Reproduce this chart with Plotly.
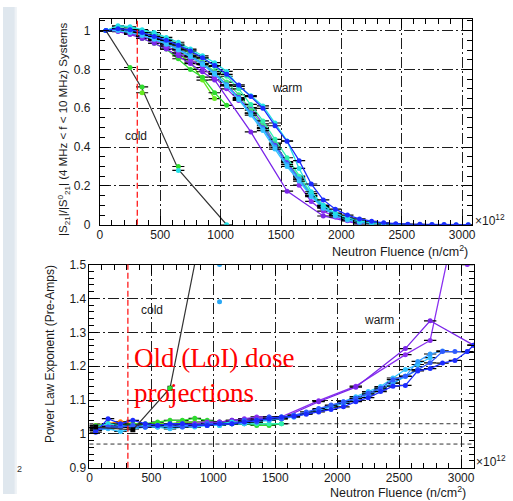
import plotly.graph_objects as go

W, H = 513, 501

# ---- fluence sample points (x 10^12 n/cm^2) ----
FLUENCE = [50, 150, 250, 350, 450, 550, 650, 750, 850, 950, 1050, 1150, 1250, 1350,
           1450, 1550, 1650, 1750, 1850, 1950, 2050, 2150, 2250, 2350, 2450, 2550,
           2650, 2750, 2850, 2950, 3050]
FLUENCE_ERR = 50
LOI_FLUENCE = 310

# ---- |S21|/|S21^0| warm systems ----
S21_BLUE = [1.00, 1.01, 1.005, 0.99, 0.97, 0.95, 0.925, 0.895, 0.86, 0.82, 0.775, 0.72, 0.66, 0.60,
            0.51, 0.43, 0.33, 0.21, 0.128, 0.08, 0.05, 0.03, 0.018, 0.01, 0.005, 0.003, 0.002,
            0.001, 0.001, 0.0, 0.0]
S21_CYAN = [1.00, 1.025, 1.02, 1.005, 0.99, 0.965, 0.94, 0.905, 0.87, 0.835, 0.79, 0.713, 0.665,
            0.612, 0.524, 0.432, 0.29, 0.17, 0.10, 0.06, 0.035, 0.02, 0.01, 0.005]
S21_AZURE = [1.00, 1.005, 0.995, 0.98, 0.96, 0.935, 0.905, 0.87, 0.83, 0.78, 0.72, 0.65, 0.575,
             0.495, 0.40, 0.31, 0.235, 0.15, 0.09, 0.05, 0.03, 0.016, 0.008, 0.004, 0.002, 0.001,
             0.0, 0.0]
S21_SKY = [1.00, 1.00, 0.99, 0.975, 0.955, 0.93, 0.90, 0.865, 0.825, 0.775, 0.715, 0.645, 0.565,
           0.485, 0.39, 0.30, 0.225, 0.145, 0.085, 0.045, 0.025, 0.012, 0.006, 0.003, 0.001, 0.0,
           0.0, 0.0, 0.0, 0.0, 0.0]
S21_AQUA = [1.00, 1.02, 1.015, 1.0, 0.98, 0.955, 0.93, 0.90, 0.86, 0.815, 0.765, 0.70, 0.62,
            0.535, 0.44, 0.345, 0.25, 0.16, 0.10, 0.055, 0.032, 0.017, 0.008]
S21_SPRING = [1.00, 1.01, 1.005, 0.99, 0.97, 0.945, 0.915, 0.88, 0.84, 0.79, 0.735, 0.67, 0.59,
              0.51, 0.415, 0.325, 0.245, 0.16, 0.095, 0.05, 0.028, 0.014, 0.006]
S21_INDIGO = [1.00, 1.005, 0.995, 0.98, 0.96, 0.935, 0.905, 0.87, 0.83, 0.78, 0.72, 0.655, 0.575,
              0.50, 0.41, 0.32, 0.235, 0.15, 0.09, 0.048, 0.028, 0.014, 0.007, 0.003]
S21_VIOLET = [1.00, 1.00, 0.985, 0.97, 0.95, 0.92, 0.885, 0.85, 0.81, 0.76, 0.70, 0.64, 0.604,
              0.52, 0.42, 0.32, 0.204, 0.12, 0.07, 0.04, 0.02, 0.01, 0.005]
S21_GREEN = [1.00, 1.00, 0.985, 0.96, 0.935, 0.905, 0.855, 0.80, 0.76, 0.68, 0.615]
S21_LIME = [1.00, 1.005, 0.99, 0.975, 0.955, 0.925, 0.88, 0.838, 0.745, 0.65]
S21_ORANGE = [1.00, 1.01, 1.005, 0.99]
S21_PURPLE_X = [50, 150, 250, 350, 450, 550, 650, 750, 850, 950, 1250, 1550, 1850, 2150]
S21_PURPLE = [1.00, 0.995, 0.98, 0.96, 0.935, 0.905, 0.87, 0.83, 0.788, 0.746, 0.478, 0.173,
              0.045, 0.003]

# ---- |S21| cold system ----
S21_COLD_X = [50, 250, 350, 650, 1050]
S21_COLD = [1.00, 0.805, 0.70, 0.285, 0.0]
S21_COLD_GREEN_X = [250, 350, 650]
S21_COLD_GREEN = [0.81, 0.71, 0.30]
S21_COLD_LIME_X = [350]
S21_COLD_LIME = [0.68]
S21_COLD_CYAN_X = [650, 1050]
S21_COLD_CYAN = [0.28, 0.0]

# ---- power law exponent, warm pre-amps ----
PLE_BLUE_X = FLUENCE + [3100]
PLE_BLUE = [1.005, 1.045, 1.03, 1.04, 1.03, 1.025, 1.03, 1.03, 1.025, 1.025, 1.03, 1.03, 1.035,
            1.04, 1.045, 1.05, 1.052, 1.058, 1.065, 1.072, 1.08, 1.095, 1.107, 1.125, 1.141, 1.143,
            1.186, 1.193, 1.209, 1.217, 1.243, 1.262]
PLE_ROYAL = [1.01, 1.02, 1.02, 1.025, 1.02, 1.025, 1.025, 1.02, 1.025, 1.03, 1.03, 1.03, 1.04,
             1.035, 1.05, 1.045, 1.055, 1.065, 1.075, 1.085, 1.095, 1.105, 1.12, 1.135, 1.16,
             1.17, 1.19, 1.21, 1.243, 1.243, 1.243]
PLE_AZURE = [1.015, 1.02, 1.025, 1.02, 1.02, 1.025, 1.02, 1.025, 1.025, 1.025, 1.03, 1.03, 1.035,
             1.04, 1.04, 1.045, 1.05, 1.06, 1.07, 1.08, 1.09, 1.10, 1.115, 1.13, 1.15, 1.17, 1.214,
             1.236, 1.245]
PLE_SKY = [1.01, 1.015, 1.007, 1.015, 1.02, 1.02, 1.015, 1.02, 1.02, 1.025, 1.025, 1.03, 1.03,
           1.035, 1.04, 1.045, 1.05, 1.06, 1.072, 1.083, 1.095, 1.11, 1.125, 1.14, 1.165, 1.19,
           1.205, 1.225]
PLE_CYAN = [1.02, 1.03, 1.025, 1.02, 1.025, 1.02, 1.02, 1.025, 1.025, 1.03, 1.03, 1.035, 1.035,
            1.04, 1.045, 1.05, 1.055, 1.06, 1.07, 1.08, 1.09, 1.105, 1.12, 1.135, 1.15, 1.17, 1.19]
PLE_AQUA = [1.02, 1.02, 1.02, 1.025, 1.02, 1.025, 1.025, 1.025, 1.03, 1.03, 1.025, 1.03, 1.03,
            1.03, 1.03, 1.03]
PLE_GREEN = [1.025, 1.03, 1.025, 1.03, 1.03, 1.035, 1.04, 1.04, 1.046, 1.04, 1.035, 1.03, 1.03,
             1.025, 1.025, 1.03]
PLE_LIME = [1.015, 1.02, 1.02, 1.02, 1.025, 1.03, 1.03, 1.035, 1.035, 1.03, 1.03, 1.03]
PLE_ORANGE = [1.025, 1.03, 1.036, 1.03, 1.025]
PLE_VIOLET_X = FLUENCE[:16] + [1850, 2150, 2550, 2750, 2950, 3050]
PLE_VIOLET = [1.02, 1.025, 1.02, 1.025, 1.025, 1.02, 1.025, 1.03, 1.03, 1.035, 1.035, 1.04, 1.045,
              1.05, 1.05, 1.05, 1.098, 1.141, 1.234, 1.276, 1.62, 1.50]
PLE_PURPLE_X = FLUENCE[:16] + [1850, 2150, 2550, 2750, 3100]
PLE_PURPLE = [1.015, 1.02, 1.025, 1.02, 1.02, 1.025, 1.025, 1.025, 1.03, 1.03, 1.035, 1.04, 1.04,
              1.045, 1.045, 1.045, 1.095, 1.138, 1.252, 1.334, 1.262]

# ---- power law exponent, cold pre-amps ----
PLE_COLD_X = [50, 350, 650, 1050]
PLE_COLD = [1.02, 1.012, 1.135, 1.87]
PLE_COLD_GREEN_X = [650]
PLE_COLD_GREEN = [1.135]
PLE_COLD_AZURE_X = [1050, 1050]
PLE_COLD_AZURE = [1.50, 1.39]

BAND_HI, BAND_LO = 1.03, 0.97

COL = dict(blue="#1c2cff", royal="#2f5bff", azure="#2f9bff", sky="#33c3ff", cyan="#22e0e6",
           aqua="#2fefb0", spring="#3fe07a", green="#2fdc2f", lime="#66ea1e", indigo="#5a35f5",
           violet="#8a2ff0", purple="#7a25e8", orange="#ff8a00")

fig = go.Figure()


def series(x, y, color, ax, err=True, mode="lines+markers", size=5):
    xa, ya = ("x", "y") if ax == 1 else ("x2", "y2")
    fig.add_trace(go.Scatter(
        x=x, y=y, mode=mode, xaxis=xa, yaxis=ya, showlegend=False,
        line=dict(color=color, width=1.3),
        marker=dict(color=color, size=size),
        error_x=dict(type="constant", value=FLUENCE_ERR, color="black",
                     thickness=1.2, width=0, visible=err),
    ))


# top panel: warm systems
series(FLUENCE[:len(S21_ORANGE)], S21_ORANGE, COL["orange"], 1)
series(FLUENCE[:len(S21_LIME)], S21_LIME, COL["lime"], 1)
series(FLUENCE[:len(S21_GREEN)], S21_GREEN, COL["green"], 1)
series(S21_PURPLE_X, S21_PURPLE, COL["purple"], 1)
series(FLUENCE[:len(S21_VIOLET)], S21_VIOLET, COL["violet"], 1)
series(FLUENCE[:len(S21_SPRING)], S21_SPRING, COL["spring"], 1)
series(FLUENCE[:len(S21_INDIGO)], S21_INDIGO, COL["indigo"], 1)
series(FLUENCE[:len(S21_AQUA)], S21_AQUA, COL["aqua"], 1)
series(FLUENCE[:len(S21_AZURE)], S21_AZURE, COL["azure"], 1)
series(FLUENCE[:len(S21_SKY)], S21_SKY, COL["sky"], 1)
series(FLUENCE[:len(S21_CYAN)], S21_CYAN, COL["cyan"], 1)
series(FLUENCE[:len(S21_BLUE)], S21_BLUE, COL["blue"], 1)
# top panel: cold system
fig.add_trace(go.Scatter(x=S21_COLD_X, y=S21_COLD, mode="lines", xaxis="x", yaxis="y",
                         line=dict(color="#333333", width=1.2), showlegend=False))
series(S21_COLD_GREEN_X, S21_COLD_GREEN, COL["green"], 1, mode="markers")
series(S21_COLD_LIME_X, S21_COLD_LIME, COL["lime"], 1, mode="markers")
series(S21_COLD_CYAN_X, S21_COLD_CYAN, COL["cyan"], 1, mode="markers")

# bottom panel: warm pre-amps
series(FLUENCE[:len(PLE_ORANGE)], PLE_ORANGE, COL["orange"], 2)
series(FLUENCE[:len(PLE_LIME)], PLE_LIME, COL["lime"], 2)
series(FLUENCE[:len(PLE_GREEN)], PLE_GREEN, COL["green"], 2)
series(FLUENCE[:len(PLE_AQUA)], PLE_AQUA, COL["aqua"], 2)
series(PLE_VIOLET_X, PLE_VIOLET, COL["violet"], 2)
series(PLE_PURPLE_X, PLE_PURPLE, COL["purple"], 2)
series(FLUENCE[:len(PLE_CYAN)], PLE_CYAN, COL["cyan"], 2)
series(FLUENCE[:len(PLE_SKY)], PLE_SKY, COL["sky"], 2)
series(FLUENCE[:len(PLE_AZURE)], PLE_AZURE, COL["azure"], 2)
series(FLUENCE[:len(PLE_ROYAL)], PLE_ROYAL, COL["royal"], 2)
series(PLE_BLUE_X, PLE_BLUE, COL["blue"], 2)
# bottom panel: cold pre-amps
fig.add_trace(go.Scatter(x=PLE_COLD_X, y=PLE_COLD, mode="lines+markers", xaxis="x2", yaxis="y2",
                         line=dict(color="#333333", width=1.2),
                         marker=dict(color="black", size=5, symbol="square"), showlegend=False))
series(PLE_COLD_GREEN_X, PLE_COLD_GREEN, COL["green"], 2, mode="markers", err=False)
series(PLE_COLD_AZURE_X, PLE_COLD_AZURE, "#2aa8f5", 2, mode="markers", err=False)

TICKFONT = dict(family="Liberation Sans, Arial, sans-serif", size=12, color="#1a1a1a")
GRID = dict(showgrid=True, gridcolor="#1e1e1e", gridwidth=1, griddash="11px,3px,2px,3px",
            zeroline=False, showline=True, linecolor="black", linewidth=1, mirror="allticks",
            ticks="inside", ticklen=9, tickcolor="black", tickfont=TICKFONT)

fig.update_layout(
    width=W, height=H, margin=dict(l=0, r=0, t=0, b=0),
    paper_bgcolor="white", plot_bgcolor="white",
    xaxis=dict(domain=[98 / W, 475 / W], range=[0, 3085], anchor="y", dtick=500, tick0=0,
               ticklabelstandoff=-1,
               minor=dict(dtick=100, ticks="inside", ticklen=5, tickcolor="black"), **GRID),
    yaxis=dict(domain=[1 - 224 / H, 1 - 12.7 / H], range=[0, 1.058], anchor="x", dtick=0.2,
               tick0=0, ticklabelstandoff=6,
               minor=dict(dtick=0.05, ticks="inside", ticklen=5, tickcolor="black"), **GRID),
    xaxis2=dict(domain=[87.5 / W, 476.7 / W], range=[0, 3105], anchor="y2", dtick=500, tick0=0,
                ticklabelstandoff=-1,
                minor=dict(dtick=100, ticks="inside", ticklen=5, tickcolor="black"), **GRID),
    yaxis2=dict(domain=[1 - 474 / H, 1 - 265 / H], range=[0.9, 1.5], anchor="x2", dtick=0.1,
                tick0=0.9, ticklabelstandoff=0,
                minor=dict(dtick=0.02, ticks="inside", ticklen=5, tickcolor="black"), **GRID),
)

shapes = [
    # slide background strip at the far left
    dict(type="rect", xref="paper", yref="paper", x0=0, x1=12 / W, y0=0, y1=1,
         fillcolor="#dfe7ee", line=dict(width=0), layer="below"),
    dict(type="rect", xref="paper", yref="paper", x0=12 / W, x1=14 / W, y0=0, y1=1,
         fillcolor="#eef2f6", line=dict(width=0), layer="below"),
    dict(type="line", xref="x", yref="y domain", x0=LOI_FLUENCE, x1=LOI_FLUENCE, y0=0, y1=1,
         line=dict(color="#ff1a1a", width=1.3, dash="6px,3px"), layer="above"),
    dict(type="line", xref="x2", yref="y2 domain", x0=LOI_FLUENCE, x1=LOI_FLUENCE, y0=0, y1=1,
         line=dict(color="#ff1a1a", width=1.3, dash="6px,3px"), layer="above"),
    dict(type="line", xref="x2 domain", yref="y2", x0=0, x1=1, y0=BAND_HI, y1=BAND_HI,
         line=dict(color="#333333", width=1, dash="4px,3px"), layer="below"),
    dict(type="line", xref="x2 domain", yref="y2", x0=0, x1=1, y0=BAND_LO, y1=BAND_LO,
         line=dict(color="#333333", width=1, dash="4px,3px"), layer="below"),
]
fig.update_layout(shapes=shapes)

LBL = dict(family="Liberation Sans, Arial, sans-serif", size=12, color="#1a1a1a")
TITLE = dict(family="Liberation Sans, Arial, sans-serif", size=12.5, color="#1a1a1a")
annotations = [
    dict(text="cold", x=303, y=0.456, xref="x", yref="y", showarrow=False, font=LBL),
    dict(text="warm", x=1547, y=0.706, xref="x", yref="y", showarrow=False, font=LBL),
    dict(text="cold", x=507, y=1.365, xref="x2", yref="y2", showarrow=False, font=LBL),
    dict(text="warm", x=2334, y=1.337, xref="x2", yref="y2", showarrow=False, font=LBL),
    dict(text="Neutron Fluence (n/cm<sup>2</sup>)", x=473 / W, y=1 - 241 / H, xref="paper",
         yref="paper", xanchor="right", yanchor="top", showarrow=False, font=TITLE),
    dict(text="Neutron Fluence (n/cm<sup>2</sup>)", x=471 / W, y=1 - 488.5 / H, xref="paper",
         yref="paper", xanchor="right", yanchor="top", showarrow=False, font=TITLE),
    dict(text="×10<sup>12</sup>", x=476 / W, y=1 - 219 / H, xref="paper", yref="paper",
         xanchor="left", yanchor="middle", showarrow=False, font=LBL),
    dict(text="×10<sup>12</sup>", x=477 / W, y=1 - 467 / H, xref="paper", yref="paper",
         xanchor="left", yanchor="middle", showarrow=False, font=LBL),
    dict(text="|S<sub>21</sub>|/|S<sup>0</sup><sub>21</sub>| (4 MHz &lt; f &lt; 10 MHz) Systems",
         x=61 / W, y=1 - 13 / H, xref="paper", yref="paper", xanchor="center", yanchor="top",
         textangle=-90, showarrow=False,
         font=dict(family="Liberation Sans, Arial, sans-serif", size=11.5, color="#1a1a1a")),
    dict(text="Power Law Exponent (Pre-Amps)", x=47 / W, y=1 - 263 / H, xref="paper",
         yref="paper", xanchor="center", yanchor="top", textangle=-90, showarrow=False,
         font=LBL),
    dict(text="Old (LoI) dose<br>projections", x=131 / W, y=1 - 344 / H, xref="paper",
         yref="paper", xanchor="left", yanchor="top", align="left", showarrow=False,
         font=dict(family="Liberation Serif, Times New Roman, serif", size=27, color="#ff0000")),
    dict(text="2", x=17 / W, y=1 - 475 / H, xref="paper", yref="paper", xanchor="center",
         yanchor="middle", showarrow=False,
         font=dict(family="Liberation Sans, Arial, sans-serif", size=9, color="#333333")),
]
fig.update_layout(annotations=annotations)

fig.write_html("out.html")
